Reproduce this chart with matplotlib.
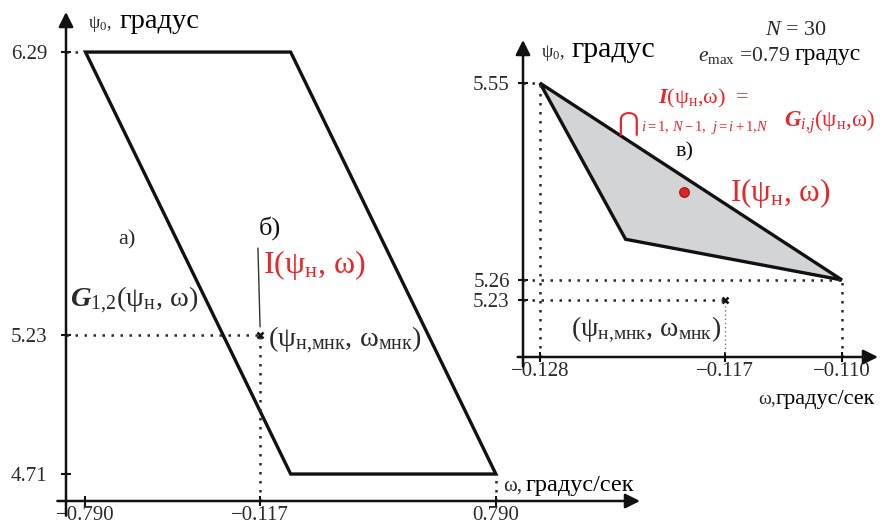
import matplotlib.pyplot as plt

plt.rcParams['font.family'] = ['Liberation Serif', 'DejaVu Sans']
plt.rcParams['mathtext.fontset'] = 'custom'
plt.rcParams['mathtext.rm'] = 'Liberation Serif'
plt.rcParams['mathtext.it'] = 'Liberation Serif:italic'
plt.rcParams['mathtext.bf'] = 'Liberation Serif:bold'
plt.rcParams['mathtext.bfit'] = 'Liberation Serif:italic:bold'

# left panel: admissible set G_1,2 (parallelogram) and LSQ estimate
g12_omega = [-0.790, 0.0, 0.790, 0.0]
g12_psi = [6.29, 6.29, 4.71, 4.71]
lsq_omega = -0.117
lsq_psi = 5.23
left_xticks = [-0.790, -0.117, 0.790]
left_xlabels = ['−0.790', '−0.117', '0.790']
left_yticks = [4.71, 5.23, 6.29]
left_ylabels = ['4.71', '5.23', '6.29']

# right panel: intersection I of all G_i,j
inter_omega = [-0.128, -0.110, -0.1229]
inter_psi = [5.55, 5.26, 5.32]
center_omega = -0.1194
center_psi = 5.39
right_xticks = [-0.128, -0.117, -0.110]
right_xlabels = ['−0.128', '−0.117', '−0.110']
right_yticks = [5.23, 5.26, 5.55]
right_ylabels = ['5.23', '5.26', '5.55']

W, H = 895, 527
DARK = '#2a2a2a'
RED = '#e8262b'
DOT = (0, (1, 2.6))

fig = plt.figure(figsize=(W / 100, H / 100), dpi=100)


def px(x, y):
    return x / W, 1 - y / H


def put(x, y, s, size, color=DARK, **kw):
    fig.text(*px(x, y), s, fontsize=size, color=color, **kw)


def setup(ax, xticks, xlabels, yticks, ylabels, ypad):
    ax.set_facecolor('none')
    for sp in ax.spines.values():
        sp.set_visible(False)
    ax.set_xticks(xticks, xlabels)
    ax.set_yticks(yticks, ylabels)
    ax.tick_params(direction='inout', length=7, width=1.5, labelsize=15,
                   colors='#111', labelcolor=DARK)
    ax.tick_params(axis='x', pad=0)
    ax.tick_params(axis='y', pad=ypad)
    arrow = dict(arrowstyle='-|>', lw=1.8, color='#111', mutation_scale=22,
                 shrinkA=0, shrinkB=0)
    ax.annotate('', xy=(1, 0), xytext=(-0.015, 0), xycoords='axes fraction',
                arrowprops=arrow)
    ax.annotate('', xy=(0, 1), xytext=(0, -0.03), xycoords='axes fraction',
                arrowprops=arrow)


# ---- left panel ----
ax1 = fig.add_axes([66 / W, 26 / H, 574 / W, 489 / H])
ax1.set_xlim(-0.865, 1.345)
ax1.set_ylim(4.609, 6.44)
setup(ax1, left_xticks, left_xlabels, left_yticks, left_ylabels, 10)

ax1.fill(g12_omega, g12_psi, facecolor='none', edgecolor='#111', lw=2.4,
         joinstyle='miter')
x0, y0 = ax1.get_xlim()[0], ax1.get_ylim()[0]
ax1.plot([x0, g12_omega[0]], [g12_psi[0], g12_psi[0]], color=DARK, lw=1.8, ls=DOT)
ax1.plot([x0, lsq_omega], [lsq_psi, lsq_psi], color=DARK, lw=1.8, ls=DOT)
ax1.plot([lsq_omega, lsq_omega], [y0, lsq_psi], color=DARK, lw=1.8, ls=DOT)
ax1.plot([g12_omega[2], g12_omega[2]], [y0, g12_psi[2]], color=DARK, lw=1.8, ls=DOT)
ax1.plot(lsq_omega, lsq_psi, marker='x', color='#111', ms=5, mew=1.8)

# ---- right panel ----
ax2 = fig.add_axes([523 / W, 170 / H, 355 / W, 317 / H])
ax2.set_xlim(-0.129013, -0.107854)
ax2.set_ylim(5.1466, 5.61346)
setup(ax2, right_xticks, right_xlabels, right_yticks, right_ylabels, 6)

ax2.fill(inter_omega, inter_psi, facecolor='#d3d4d6', edgecolor='#111', lw=2.4,
         joinstyle='miter')
u0, v0 = ax2.get_xlim()[0], ax2.get_ylim()[0]
ax2.plot([u0, inter_omega[0]], [inter_psi[0], inter_psi[0]], color=DARK, lw=1.8, ls=DOT)
ax2.plot([inter_omega[0], inter_omega[0]], [v0, inter_psi[0]], color=DARK, lw=1.8, ls=DOT)
ax2.plot([u0, inter_omega[1]], [inter_psi[1], inter_psi[1]], color=DARK, lw=1.8, ls=DOT)
ax2.plot([inter_omega[1], inter_omega[1]], [v0, inter_psi[1]], color=DARK, lw=1.8, ls=DOT)
ax2.plot([u0, lsq_omega], [lsq_psi, lsq_psi], color=DARK, lw=1.8, ls=DOT)
ax2.plot([lsq_omega, lsq_omega], [v0, lsq_psi], color='#777', lw=1.0, ls=(0, (1, 2)))
ax2.plot(lsq_omega, lsq_psi, marker='x', color='#111', ms=5, mew=1.8)
ax2.plot(center_omega, center_psi, marker='o', color='#d9262b', ms=7,
         mec='#a01010', mew=0.8)

# ---- labels, left ----
put(88, 28, 'ψ$_0$,', 13, va='baseline')
put(119, 28, 'градус', 20.5, color='#000', va='baseline')
put(127, 240, 'а)', 16, ha='center', va='center')
put(270, 228, 'б)', 19, ha='center', va='center', color='#111')
put(263, 265, 'I(ψ$_{\\mathrm{н}}$, ω)', 23, color=RED, va='center')
ax1.annotate('', xy=(lsq_omega, lsq_psi), xytext=(-0.126, 5.556),
             arrowprops=dict(arrowstyle='-', lw=1.0, color='#333',
                             shrinkA=0, shrinkB=6))
put(70, 300, '$\\mathbfit{G}_{1{,}2}$(ψ$_{\\mathrm{н}}$, ω)', 20.5, va='center')
put(268, 340, '(ψ$_{\\mathrm{н{,}мнк}}$, ω$_{\\mathrm{мнк}}$)', 20.5, va='center')
put(503, 491, 'ω,', 15, va='baseline')
put(526, 491, 'градус/сек', 17.5, color='#000', va='baseline')

# ---- labels, right ----
put(541, 57, 'ψ$_0$,', 13, va='baseline')
put(571, 57, 'градус', 21.5, color='#000', va='baseline')
put(796, 35, '$N$ = 30', 16, ha='center', va='baseline')
put(698, 61, '$e_{\\mathrm{max}}$ =0.79', 15.5, va='baseline')
put(795, 60, 'градус', 17, color='#000', va='baseline')
put(658, 98, '$\\mathbfit{I}$(ψ$_{\\mathrm{н}}$,ω)  =', 16, color=RED, va='center')
put(628, 123, '⋂', 19, color=RED, ha='center', va='center',
    family=['DejaVu Sans'])
put(641, 128, '$i = 1,\\, N - 1,\\;\\, j = i + 1{,}N$', 10.5, color=RED, va='center')
put(784, 122, '$\\mathbfit{G}_{i{,}j}$(ψ$_{\\mathrm{н}}$,ω)', 16.5, color=RED, va='center')
put(685, 152, 'в)', 16, ha='center', va='center', color='#111')
put(730, 193, 'I(ψ$_{\\mathrm{н}}$, ω)', 22.5, color=RED, va='center')
put(571, 330, '(ψ$_{\\mathrm{н{,}мнк}}$, ω$_{\\mathrm{мнк}}$)', 20, va='center')
put(758, 404, 'ω,', 14, va='baseline')
put(776, 404, 'градус/сек', 16, color='#000', va='baseline')

fig.savefig('out.png', dpi=100)
